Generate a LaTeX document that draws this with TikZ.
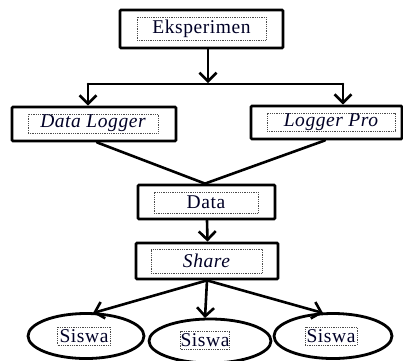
\documentclass[tikz,border=0pt]{standalone}
\usepackage{fontspec}
\setmainfont{Liberation Serif}[LetterSpace=3]
\usetikzlibrary{arrows.meta,shapes.geometric}
\begin{document}
\begin{tikzpicture}[x=1pt,y=-1pt,
  outerbox/.style={draw=black,line width=2.8pt,rounded corners=1pt,inner sep=0pt,fill=white},
  innerbox/.style={draw=black!70,line width=0.6pt,dash pattern=on 0.9pt off 0.9pt,inner sep=0pt,text=black!85!blue,font=\fontsize{19.5}{22}\selectfont},
  ell/.style={draw=black,ellipse,line width=2.8pt,inner sep=0pt},
  conn/.style={line width=2.6pt,line cap=round},
  arr/.style={conn,-{Straight Barb[length=8.5pt,width=17pt,line width=2.6pt]}}
]
\useasboundingbox (0,0) rectangle (403,360);
% boxes
\node[outerbox,minimum width=163pt,minimum height=38pt] (eks) at (201.5,29) {};
\node[innerbox,minimum width=129pt,minimum height=23pt] (eksT) at (201.5,28.5) {Eksperimen};
\node[outerbox,minimum width=164pt,minimum height=34pt] (dl) at (94,124) {};
\node[innerbox,minimum width=130pt,minimum height=19pt] (dlT) at (93,123.5) {\itshape Data Logger};
\node[outerbox,minimum width=151pt,minimum height=33pt] (lp) at (326.5,122.5) {};
\node[innerbox,minimum width=128pt,minimum height=18pt] (lpT) at (331,122) {\itshape Logger Pro};
\node[outerbox,minimum width=137pt,minimum height=34pt] (data) at (206.5,202) {};
\node[innerbox,minimum width=104pt,minimum height=21pt] (dataT) at (206,202.5) {Data};
\node[outerbox,minimum width=142pt,minimum height=36pt] (share) at (207,261) {};
\node[innerbox,minimum width=111pt,minimum height=24pt] (shareT) at (206.5,261) {\itshape Share};
% ellipses
\node[ell,minimum width=116pt,minimum height=45pt] (s1) at (86,336) {};
\node[innerbox,minimum width=53pt,minimum height=18pt] (s1T) at (84,336) {Siswa};
\node[ell,minimum width=122pt,minimum height=44pt] (s2) at (210,341) {};
\node[innerbox,minimum width=49pt,minimum height=18pt] (s2T) at (205,340) {Siswa};
\node[ell,minimum width=118pt,minimum height=45pt] (s3) at (333,336) {};
\node[innerbox,minimum width=52pt,minimum height=18pt] (s3T) at (331,336) {Siswa};
% connectors
\coordinate (j) at (208,83);
\coordinate (jl) at (88,84);
\coordinate (jr) at (343,84);
\draw[arr] (eks.south -| j) -- (j);
\draw[conn] (jl) -- (jr);
\draw[arr] (jl) -- (jl |- dl.north);
\draw[arr] (jr) -- (jr |- lp.north);
\draw[conn] ([xshift=3pt]dl.south) -- ([xshift=-1.5pt]data.north);
\draw[conn] ([xshift=-1.5pt]lp.south) -- ([xshift=-1.5pt]data.north);
\draw[arr] ([xshift=0.5pt]data.south) -- ([xshift=0.5pt]share.north);
\coordinate (t1) at (93,313);
\coordinate (t2) at (205,318);
\coordinate (t3) at (323,313);
\draw[arr] (share.south) -- (t1);
\draw[arr] (share.south) -- (t2);
\draw[arr] (share.south) -- (t3);
\end{tikzpicture}
\end{document}
